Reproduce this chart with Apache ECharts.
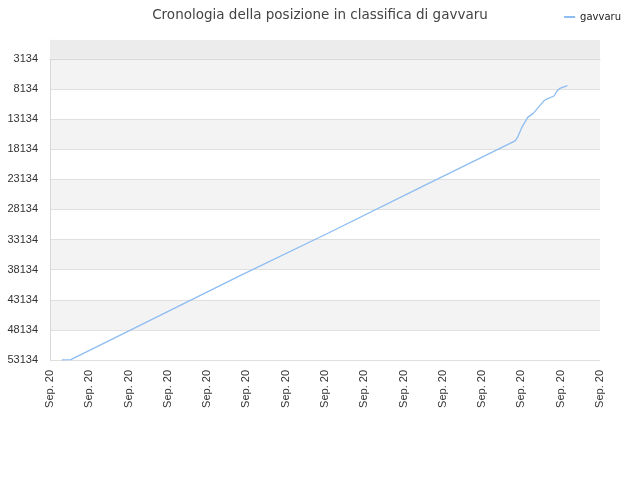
<!DOCTYPE html>
<html>
<head>
<meta charset="utf-8">
<title>gavvaru</title>
<script src="https://cdn.jsdelivr.net/npm/echarts@6/dist/echarts.min.js"></script>
<style>
html,body{margin:0;padding:0;background:#fff;}
#main{width:640px;height:480px;}
</style>
</head>
<body>
<div id="main"></div>
<script>
// etichette asse x (una per tacca)
var tickLabels = ['Sep. 20','Sep. 20','Sep. 20','Sep. 20','Sep. 20','Sep. 20','Sep. 20','Sep. 20',
                  'Sep. 20','Sep. 20','Sep. 20','Sep. 20','Sep. 20','Sep. 20','Sep. 20'];
// posizione lungo l'asse x (in tacche) e posizione in classifica
var xPos  = [0.30, 0.53, 2.29, 4.84, 7.10, 9.42, 11.84, 11.90, 12.01, 12.16, 12.30, 12.43, 12.56, 12.64, 12.83, 12.90, 12.98, 13.17];
var ranks = [53100, 53080, 47380, 39134, 32000, 24517, 16751, 16184, 14517, 12851, 12184, 11184, 10184, 9801, 9301, 8517, 8017, 7584];
var rankTop = 0;        // cima dell'asse
var rankBottom = 53134; // fondo dell'asse
var labelBase = 3134;   // le tacche sono 3134, 8134, ...

var myChart = echarts.init(document.getElementById('main'));

var seriesData = [];
for (var i = 0; i < xPos.length; i++) {
    seriesData.push([xPos[i], ranks[i] - labelBase]);
}

var option = {
    animation: false,
    title: {
        text: 'Cronologia della posizione in classifica di gavvaru',
        left: 'center',
        top: 3,
        textStyle: {fontFamily: 'DejaVu Sans', fontSize: 13.5, fontWeight: 'normal', color: '#444'}
    },
    legend: {
        right: 14,
        top: 7,
        itemWidth: 11,
        itemHeight: 2,
        itemGap: 8,
        data: [{name: 'gavvaru', icon: 'rect'}],
        textStyle: {fontFamily: 'DejaVu Sans', fontSize: 10, color: '#222'}
    },
    grid: {left: 50, right: 40, top: 40, bottom: 120, containLabel: false},
    xAxis: {
        type: 'value',
        min: 0,
        max: tickLabels.length - 1,
        interval: 1,
        axisLine: {show: true, lineStyle: {color: '#d8d8d8'}},
        axisTick: {show: false},
        splitLine: {show: false},
        axisLabel: {
            rotate: 90,
            margin: 10,
            fontFamily: 'Liberation Sans',
            fontSize: 11,
            color: '#333',
            formatter: function (v) { return tickLabels[Math.round(v)] || ''; }
        }
    },
    yAxis: {
        type: 'value',
        inverse: true,
        min: rankTop - labelBase,
        max: rankBottom - labelBase,
        splitNumber: 10,
        axisLine: {show: true, lineStyle: {color: '#d8d8d8'}},
        axisTick: {show: false},
        splitLine: {show: true, lineStyle: {color: '#e0e0e0'}},
        splitArea: {show: true, areaStyle: {color: ['#ffffff', '#f3f3f3']}},
        axisLabel: {
            margin: 12,
            fontFamily: 'Liberation Sans',
            fontSize: 11,
            color: '#333',
            formatter: function (v) {
                if (Math.abs(v % 5000) > 1) return '';
                return String(v + labelBase);
            }
        }
    },
    series: [{
        name: 'gavvaru',
        type: 'line',
        data: seriesData,
        showSymbol: false,
        symbol: 'none',
        lineStyle: {color: '#8dbdf2', width: 1.3},
        itemStyle: {color: '#8dbdf2'},
        markArea: {
            silent: true,
            itemStyle: {color: '#ececec'},
            data: [[{yAxis: rankTop - labelBase}, {yAxis: 0}]]
        }
    }]
};

myChart.setOption(option);
</script>
</body>
</html>
